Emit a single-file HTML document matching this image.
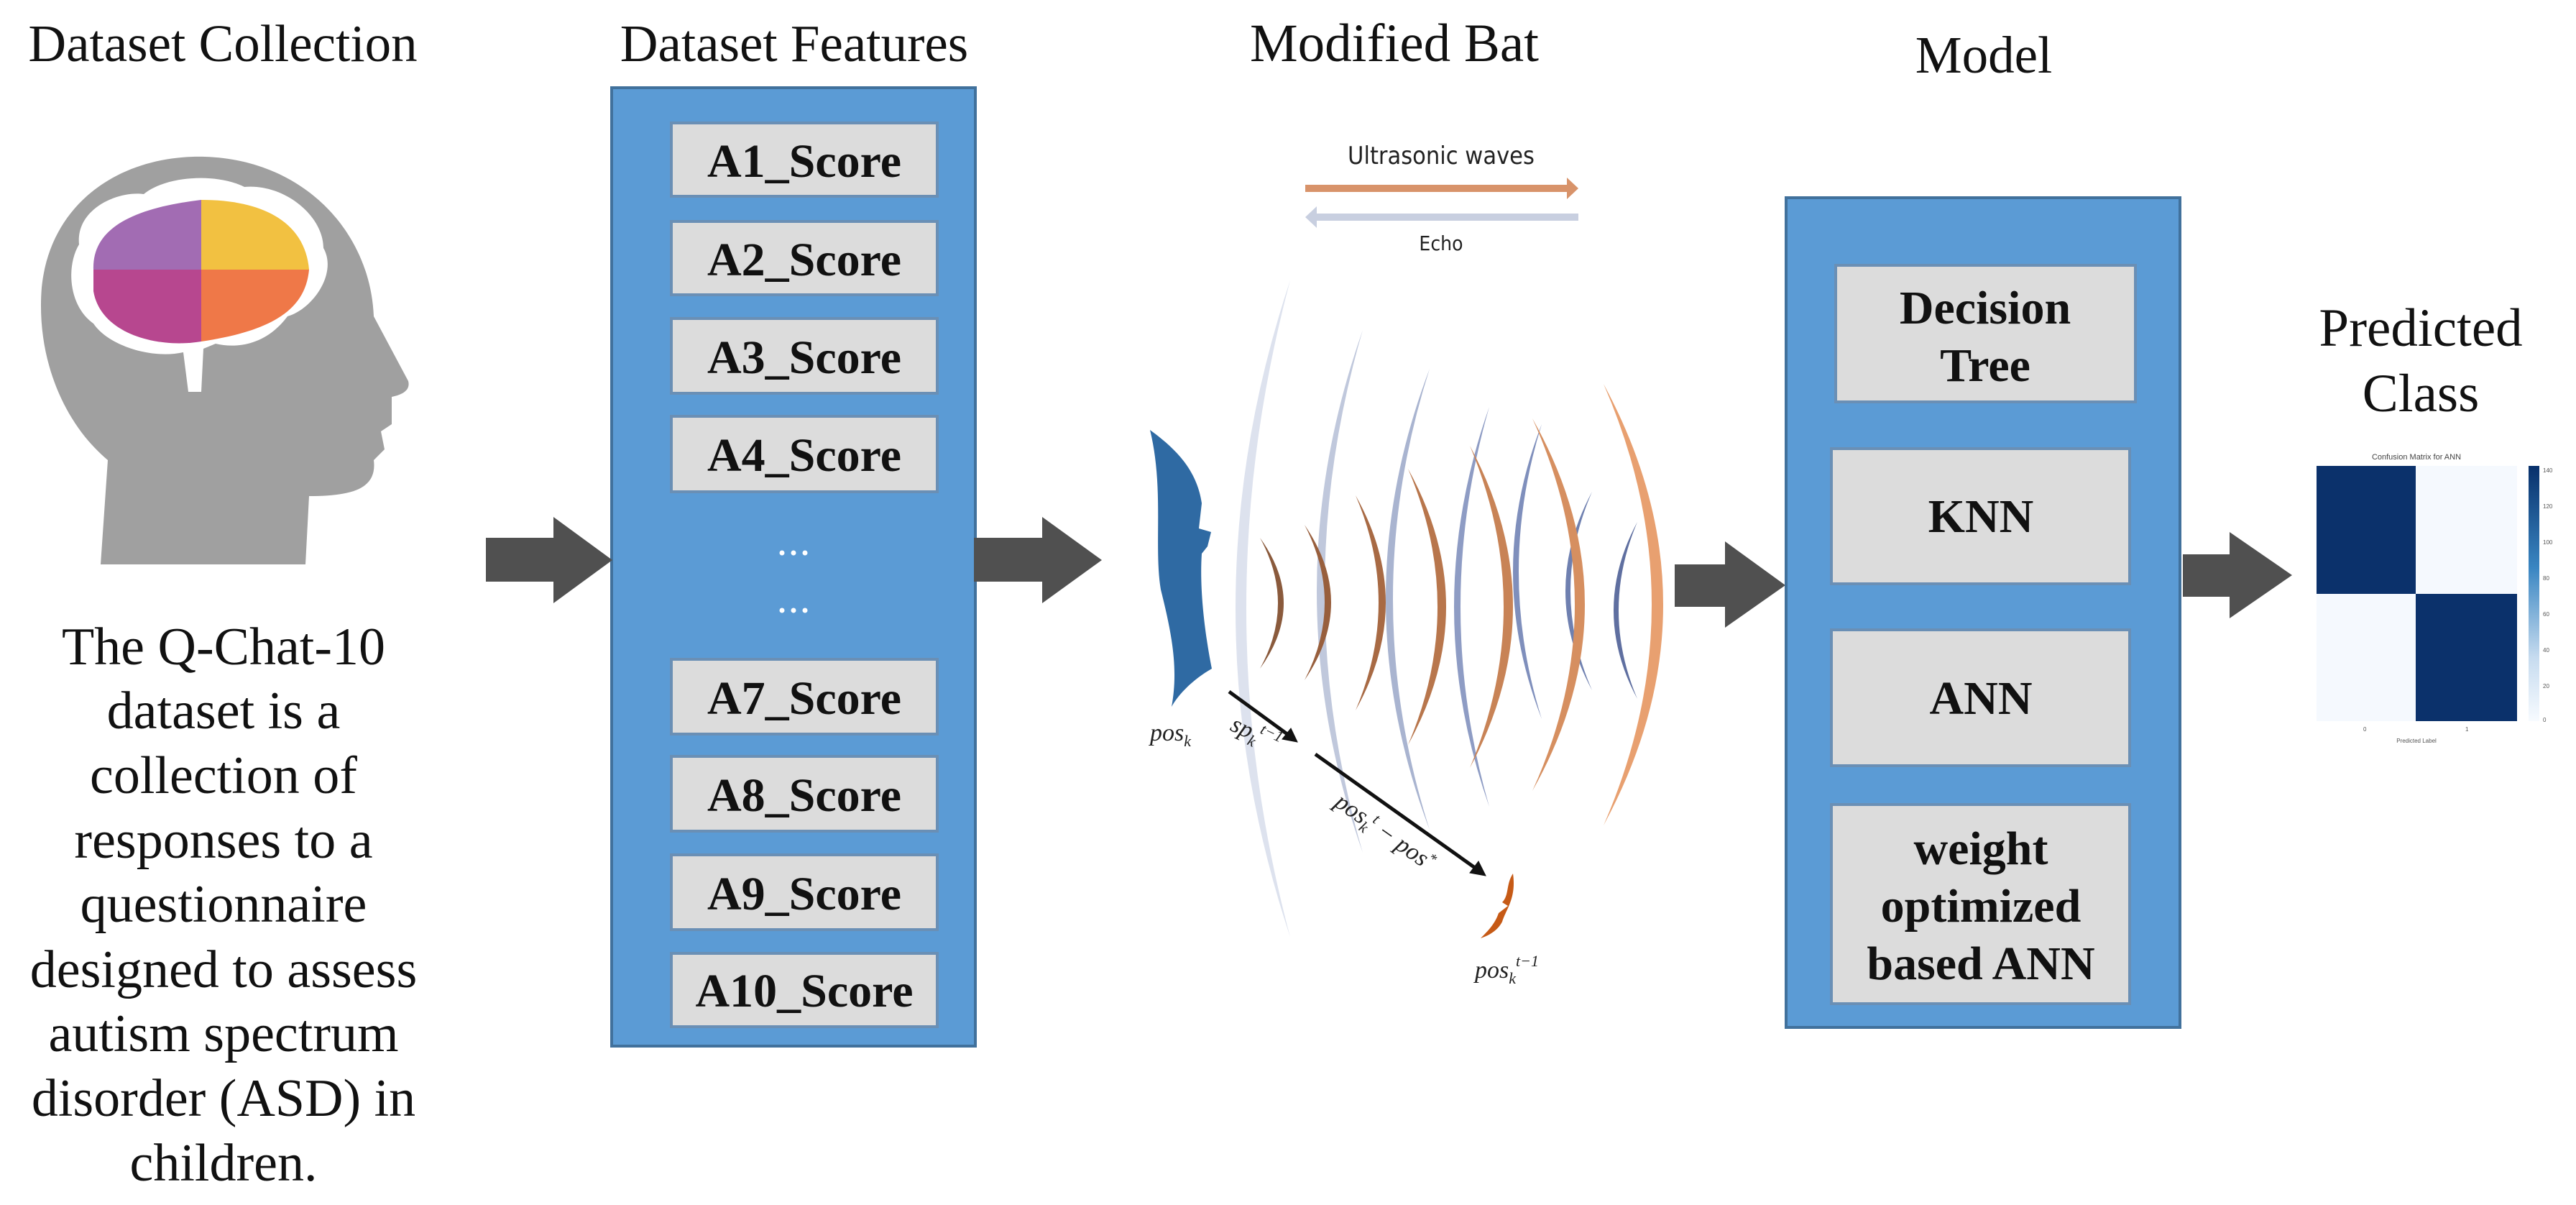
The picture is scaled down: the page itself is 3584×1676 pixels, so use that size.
<!DOCTYPE html>
<html><head><meta charset="utf-8"><style>
html,body{margin:0;padding:0;background:#fff;}
svg{display:block;}
</style></head><body>
<svg width="3584" height="1676" viewBox="0 0 3584 1676" xmlns="http://www.w3.org/2000/svg">
<defs>
<linearGradient id="cb" x1="0" y1="0" x2="0" y2="1">
<stop offset="0" stop-color="#08306b"/><stop offset="0.4" stop-color="#3a86c2"/><stop offset="0.75" stop-color="#c6dbef"/><stop offset="1" stop-color="#f7fbff"/>
</linearGradient>
</defs>
<g font-family="Liberation Serif, serif" fill="#111">
<text x="310" y="85" font-size="73" text-anchor="middle">Dataset Collection</text>
<text x="1105" y="85" font-size="73" text-anchor="middle">Dataset Features</text>
<text x="1940" y="85" font-size="75" text-anchor="middle">Modified Bat</text>
<text x="2760" y="101" font-size="73" text-anchor="middle">Model</text>
<text x="3368" y="481" font-size="75" text-anchor="middle">Predicted</text>
<text x="3368" y="572" font-size="75" text-anchor="middle">Class</text>
<g font-size="74" text-anchor="middle">
<text x="311" y="924">The Q-Chat-10</text>
<text x="311" y="1013">dataset is a</text>
<text x="311" y="1103">collection of</text>
<text x="311" y="1193">responses to a</text>
<text x="311" y="1282">questionnaire</text>
<text x="311" y="1373">designed to assess</text>
<text x="311" y="1462">autism spectrum</text>
<text x="311" y="1552">disorder (ASD) in</text>
<text x="311" y="1642">children.</text>
</g>
</g>
<!-- head -->
<g>
<path d="M140,785 L150,640 C90,590 50,500 58,400 C70,280 170,215 285,218 C420,222 515,320 520,440 L568,530 C572,545 555,550 545,552 L545,590 L530,600 L535,625 L520,640 C525,680 490,690 430,690 L425,785 Z" fill="#a0a0a0"/>
<path d="M110,340 C105,290 165,265 200,270 C230,245 300,240 340,260 C395,255 450,300 450,345 C470,380 435,430 400,440 C370,480 330,485 300,478 L283,485 L280,545 L262,545 L255,490 C210,500 150,480 130,450 C95,425 92,370 110,340 Z" fill="#fff"/>
<path d="M280,278 L280,375 L130,375 C128,320 180,290 280,278 Z" fill="#a26cb3"/>
<path d="M280,278 C375,278 425,315 430,375 L280,375 Z" fill="#f2c141"/>
<path d="M130,375 L280,375 L280,475 C220,485 140,465 130,405 Z" fill="#b7478f"/>
<path d="M280,375 L430,375 C425,430 380,460 280,475 Z" fill="#ef7848"/>
</g>
<!-- features box -->
<rect x="851" y="122" width="506" height="1333" fill="#5b9bd5" stroke="#41719c" stroke-width="4"/>
<g fill="#dcdcdc" stroke="#6a8fb5" stroke-width="4">
<rect x="934" y="171" width="370" height="102"/>
<rect x="934" y="308" width="370" height="102"/>
<rect x="934" y="443" width="370" height="104"/>
<rect x="934" y="579" width="370" height="105"/>
<rect x="934" y="917" width="370" height="104"/>
<rect x="934" y="1052" width="370" height="104"/>
<rect x="934" y="1189" width="370" height="104"/>
<rect x="934" y="1326" width="370" height="102"/>
</g>
<g font-family="Liberation Serif, serif" font-weight="bold" font-size="66" fill="#111" text-anchor="middle">
<text x="1119" y="246">A1_Score</text>
<text x="1119" y="383">A2_Score</text>
<text x="1119" y="519">A3_Score</text>
<text x="1119" y="655">A4_Score</text>
<text x="1119" y="993">A7_Score</text>
<text x="1119" y="1128">A8_Score</text>
<text x="1119" y="1265">A9_Score</text>
<text x="1119" y="1400">A10_Score</text>
</g>
<g fill="#fff"><circle cx="1088" cy="769" r="3.5"/><circle cx="1104" cy="769" r="3.5"/><circle cx="1120" cy="769" r="3.5"/>
<circle cx="1088" cy="849" r="3.5"/><circle cx="1104" cy="849" r="3.5"/><circle cx="1120" cy="849" r="3.5"/></g>
<!-- big arrows -->
<g fill="#505050">
<path d="M676,748 H770 V719 L852,779 L770,839 V809 H676 Z"/>
<path d="M1355,748 H1450 V719 L1533,779 L1450,839 V809 H1355 Z"/>
<path d="M2330,785 H2400 V753 L2484,814 L2400,873 V844 H2330 Z"/>
<path d="M3037,771 H3102 V740 L3189,800 L3102,860 V830 H3037 Z"/>
</g>
<!-- ultrasonic arrows -->
<text x="2005" y="228" font-family="DejaVu Sans Condensed, Liberation Sans, sans-serif" font-size="34" text-anchor="middle" fill="#222">Ultrasonic waves</text>
<path d="M1816,257 H2180 V247 L2196,262 L2180,277 V267 H1816 Z" fill="#d8936a"/>
<path d="M2196,297 H1832 V287 L1816,302 L1832,317 V307 H2196 Z" fill="#c8cfe0"/>
<text x="2005" y="348" font-family="DejaVu Sans Condensed, Liberation Sans, sans-serif" font-size="28" text-anchor="middle" fill="#222">Echo</text>
<!-- waves -->
<g>
<path d="M1795,390 Q1643,846 1795,1303 Q1673,846 1795,390 Z" fill="#dde2ee"/>
<path d="M1896,459 Q1768,822 1896,1186 Q1790,822 1896,459 Z" fill="#c0c8dc"/>
<path d="M1989,513 Q1867,833 1989,1154 Q1887,833 1989,513 Z" fill="#a9b4d0"/>
<path d="M2072,566 Q1974,844 2072,1122 Q1992,844 2072,566 Z" fill="#8e9cc4"/>
<path d="M2145,590 Q2065,795 2145,1000 Q2081,795 2145,590 Z" fill="#7f8fbc"/>
<path d="M2215,684 Q2141,822 2215,960 Q2155,822 2215,684 Z" fill="#6f80b0"/>
<path d="M2278,726 Q2212,849 2278,972 Q2226,849 2278,726 Z" fill="#5f6fa0"/>
<path d="M1753,748 Q1819,839 1753,930 Q1803,839 1753,748 Z" fill="#8a5a3c"/>
<path d="M1815,730 Q1889,838 1815,946 Q1871,838 1815,730 Z" fill="#985f3d"/>
<path d="M1886,689 Q1970,838 1886,988 Q1950,838 1886,689 Z" fill="#a86a44"/>
<path d="M1959,652 Q2065,844 1959,1036 Q2041,844 1959,652 Z" fill="#b8764c"/>
<path d="M2045,620 Q2165,844 2045,1068 Q2139,844 2045,620 Z" fill="#c88356"/>
<path d="M2132,582 Q2278,841 2132,1100 Q2250,841 2132,582 Z" fill="#d68f60"/>
<path d="M2231,534 Q2397,841 2231,1148 Q2365,841 2231,534 Z" fill="#e8a070"/>
</g>
<!-- bats -->
<path d="M1600,598 C1630,620 1665,650 1672,700 L1668,735 L1685,740 L1680,760 L1672,770 C1668,830 1680,900 1686,930 C1660,945 1640,965 1630,983 C1640,930 1630,880 1615,820 C1605,760 1620,680 1600,598 Z" fill="#2f6aa3"/>
<path d="M2105,1215 C2095,1230 2100,1245 2090,1255 L2098,1260 L2085,1270 C2080,1285 2070,1295 2060,1305 C2075,1300 2085,1292 2090,1282 C2095,1265 2110,1250 2105,1215 Z" fill="#c65a16"/>
<!-- black arrows -->
<g stroke="#111" stroke-width="5" fill="#111">
<line x1="1710" y1="962" x2="1795" y2="1024"/>
<path d="M1805,1032 L1784,1028 L1796,1013 Z" stroke-width="1"/>
<line x1="1830" y1="1049" x2="2055" y2="1209"/>
<path d="M2067,1218 L2045,1214 L2057,1198 Z" stroke-width="1"/>
</g>
<g font-family="Liberation Serif, serif" font-style="italic" fill="#222" font-size="34">
<text x="1600" y="1030">pos<tspan font-size="22" dy="8">k</tspan></text>
<text x="1710" y="1015" transform="rotate(25 1710 1015)">sp<tspan font-size="22" dy="8">k</tspan><tspan font-size="22" dy="-22">t−1</tspan></text>
<text x="1855" y="1120" transform="rotate(35 1855 1120)">pos<tspan font-size="22" dy="8">k</tspan><tspan font-size="22" dy="-20">t</tspan><tspan dy="12"> − pos</tspan><tspan font-size="20" dy="-12">*</tspan></text>
<text x="2052" y="1360">pos<tspan font-size="22" dy="8">k</tspan><tspan font-size="22" dy="-24">t−1</tspan></text>
</g>
<!-- model box -->
<rect x="2485" y="275" width="548" height="1154" fill="#5b9bd5" stroke="#41719c" stroke-width="4"/>
<g fill="#dcdcdc" stroke="#6a8fb5" stroke-width="4">
<rect x="2554" y="369" width="417" height="190"/>
<rect x="2548" y="624" width="415" height="188"/>
<rect x="2548" y="876" width="415" height="189"/>
<rect x="2548" y="1119" width="415" height="277"/>
</g>
<g font-family="Liberation Serif, serif" font-weight="bold" font-size="66" fill="#111" text-anchor="middle">
<text x="2762" y="450">Decision</text>
<text x="2762" y="530">Tree</text>
<text x="2756" y="740">KNN</text>
<text x="2756" y="993">ANN</text>
<text x="2756" y="1202">weight</text>
<text x="2756" y="1282">optimized</text>
<text x="2756" y="1362">based ANN</text>
</g>
<!-- confusion matrix -->
<text x="3362" y="639" font-family="Liberation Sans, sans-serif" font-size="11" text-anchor="middle" fill="#444">Confusion Matrix for ANN</text>
<rect x="3223" y="648" width="279" height="355" fill="#f5f9fe"/>
<rect x="3223" y="648" width="138" height="178" fill="#0b316b"/>
<rect x="3361" y="826" width="141" height="177" fill="#0b316b"/>
<rect x="3518" y="648" width="15" height="355" fill="url(#cb)"/>
<g font-family="Liberation Sans, sans-serif" font-size="8" fill="#555">
<text x="3538" y="657">140</text><text x="3538" y="707">120</text><text x="3538" y="757">100</text><text x="3538" y="807">80</text><text x="3538" y="857">60</text><text x="3538" y="907">40</text><text x="3538" y="957">20</text><text x="3538" y="1004">0</text>
<text x="3288" y="1017">0</text><text x="3430" y="1017">1</text>
<text x="3362" y="1033" text-anchor="middle">Predicted Label</text>
</g>
</svg>
</body></html>
